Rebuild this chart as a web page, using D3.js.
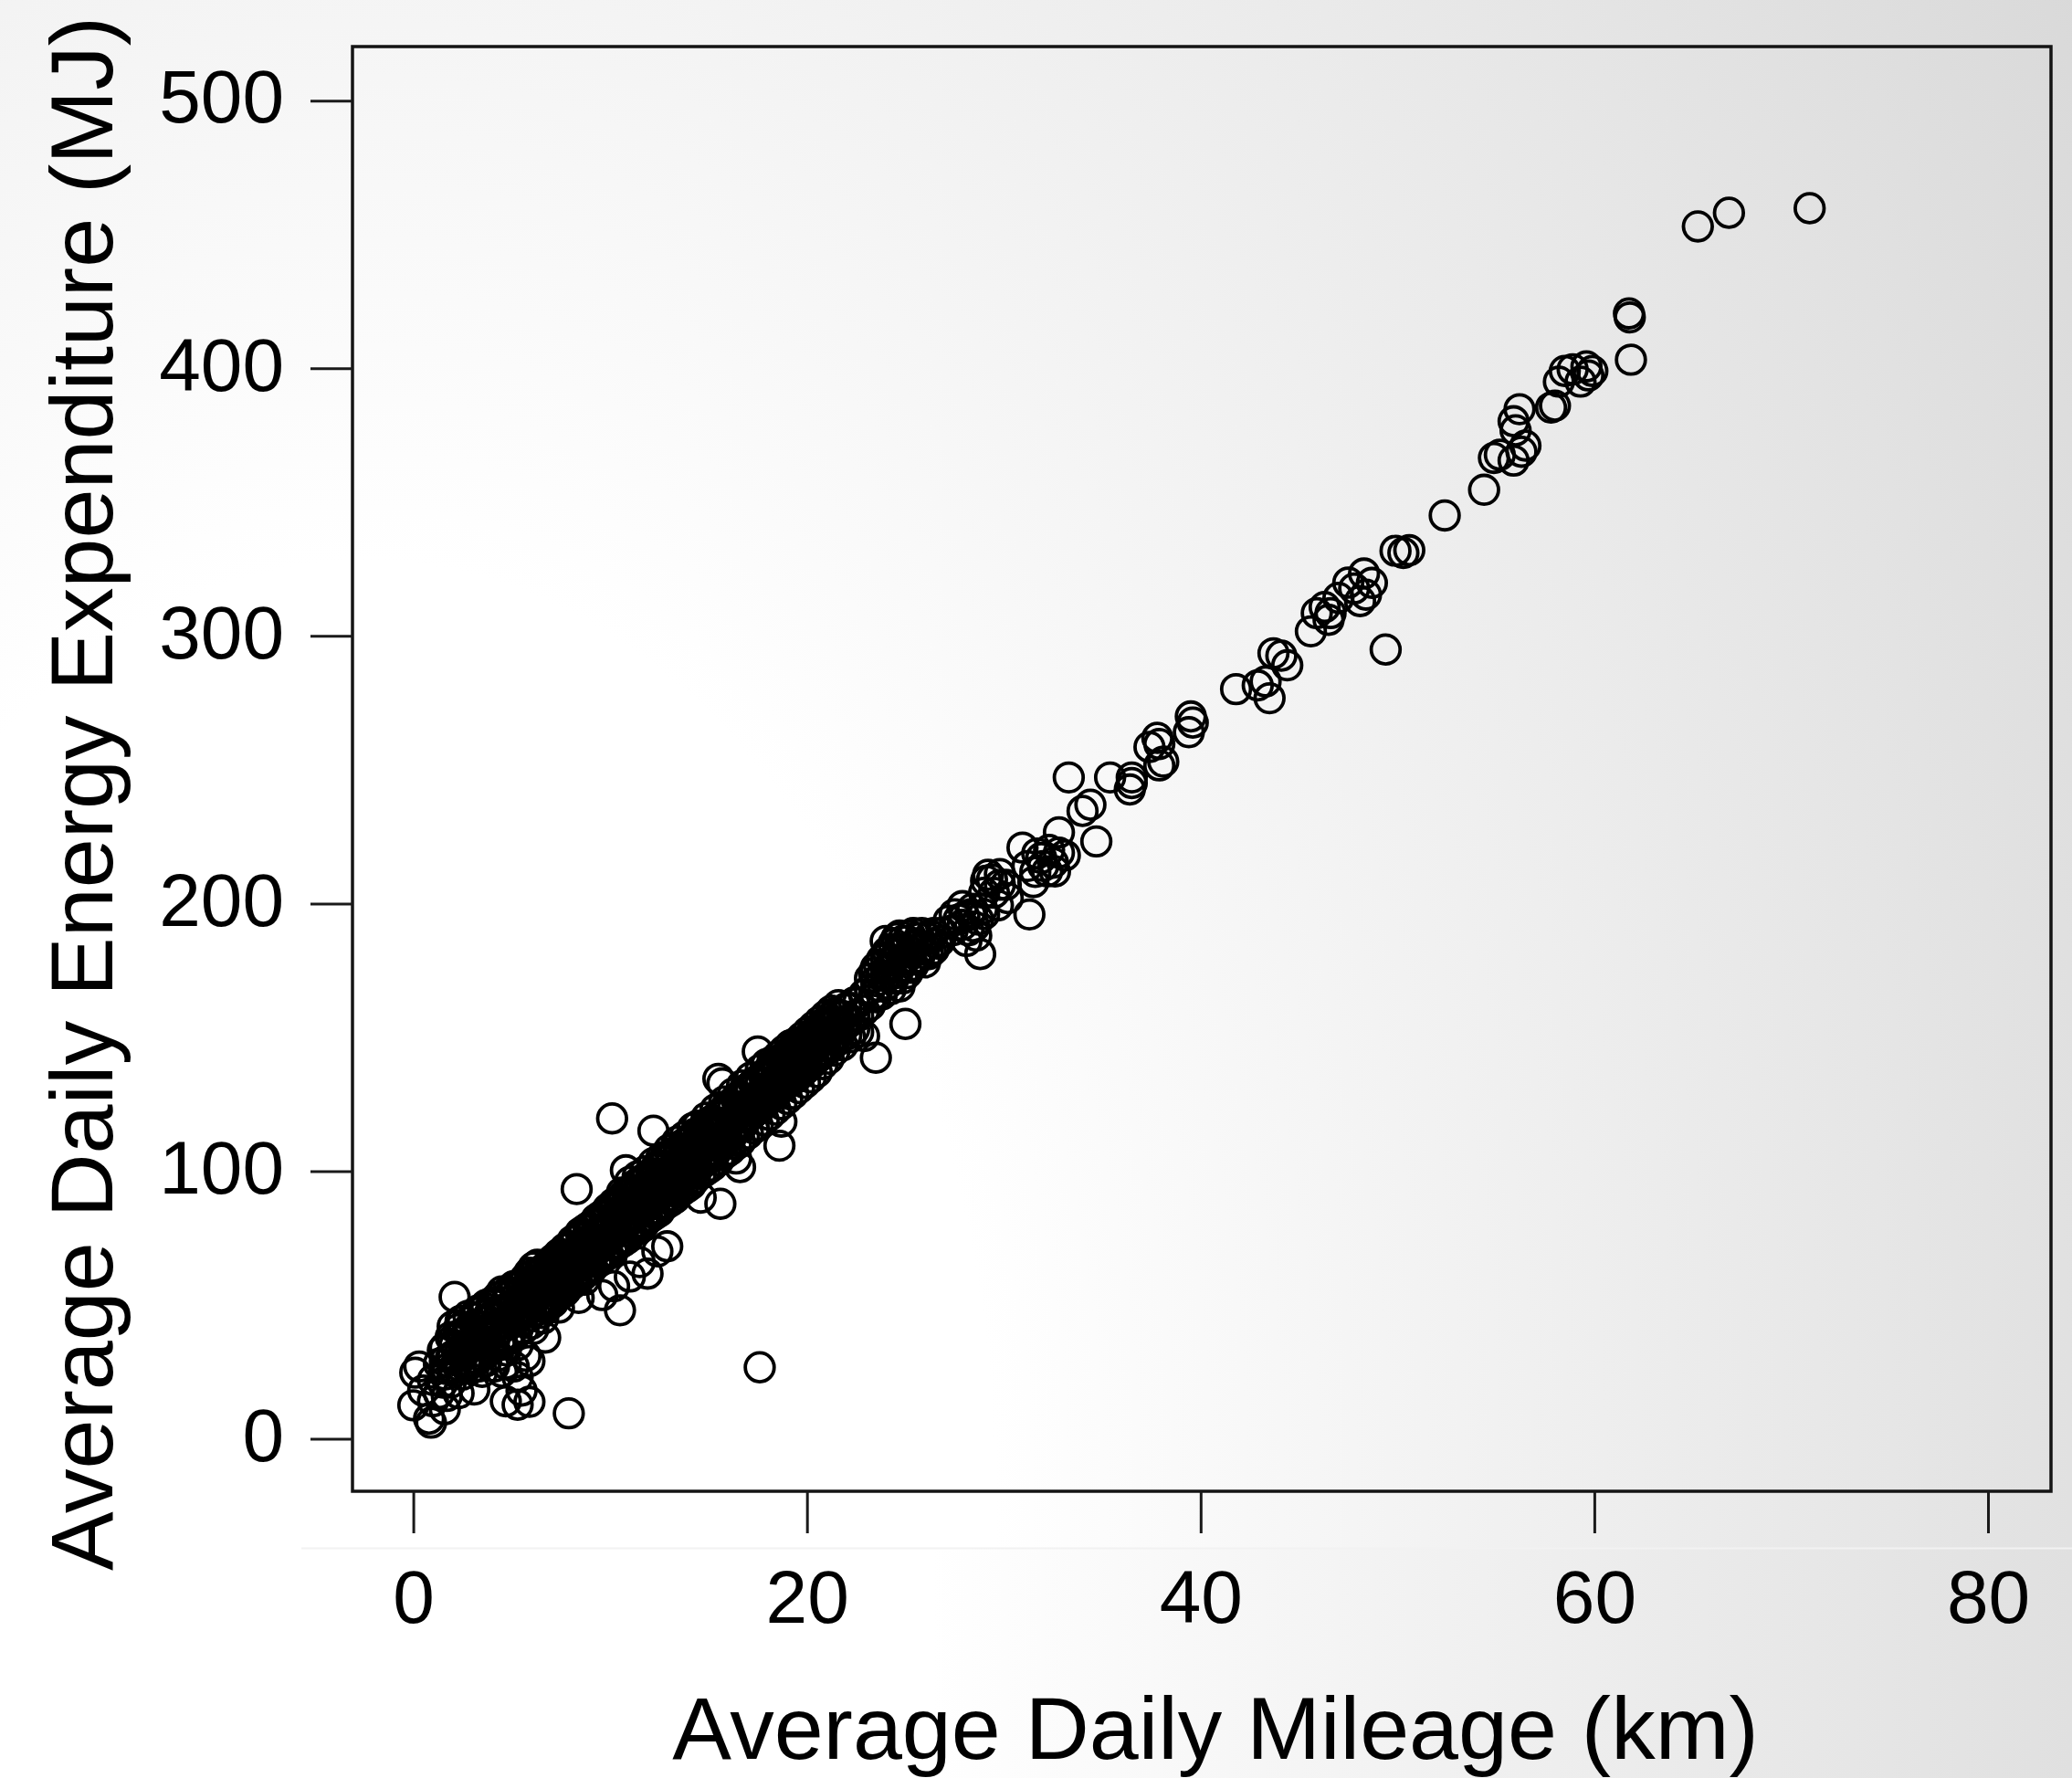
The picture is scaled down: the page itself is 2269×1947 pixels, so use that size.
<!DOCTYPE html>
<html>
<head>
<meta charset="utf-8">
<script src="https://cdn.jsdelivr.net/npm/d3@7"></script>
<style>
  html, body { margin: 0; padding: 0; background: #fff; }
  svg { display: block; }
  text { font-family: "Liberation Sans", Arial, Helvetica, sans-serif; fill: #000; }
</style>
</head>
<body>
<svg id="chart" width="2269" height="1947"></svg>
<script>
// ---------------- DATA ----------------
const xTicks = [0, 20, 40, 60, 80];
const yTicks = [0, 100, 200, 300, 400, 500];
const xTitle = "Average Daily Mileage (km)";
const yTitle = "Average Daily Energy Expenditure (MJ)";

// [mileage km, energy MJ] — cluster near the origin (0–6.5 km)
const lowBlob = [
  [0.0,12.5],[0.1,24.7],[0.3,27],[0.5,18],[0.8,7.5],[0.9,6],[1.0,22],[1.0,14],[1.3,28],[1.3,17],
  [1.5,33],[1.5,21],[1.6,11],[1.7,16],[1.7,26],[1.9,30],[1.9,38],[1.9,21],[2.1,53],[2.1,35],
  [2.1,25],[2.3,29],[2.3,41],[2.3,17],[2.5,37],[2.5,24],[2.5,44],[2.5,31],[2.7,27],[2.7,39],
  [2.7,33],[2.9,42],[2.9,26],[2.9,36],[3.1,18.4],[3.1,30],[3.1,45],[3.1,38],[3.3,35],[3.3,27],
  [3.3,42],[3.3,48],[3.5,40],[3.5,25],[3.5,31],[3.5,46],[3.7,44],[3.7,36],[3.7,29],[3.7,50],
  [3.9,39],[3.9,47],[3.9,33],[4.1,42],[4.1,27],[4.1,50],[4.1,36],[4.3,45],[4.3,31],[4.3,53],
  [4.3,40],[4.5,38],[4.5,48],[4.5,25],[4.5,55],[4.7,14],[4.7,43],[4.7,51],[4.7,33],[4.7,28],
  [4.9,46],[4.9,54],[4.9,39],[5.1,50],[5.1,43.5],[5.1,57],[5.1,27],[5.3,12.7],[5.3,23],[5.3,47],
  [5.3,54],[5.3,35],[5.5,18],[5.5,52],[5.5,58],[5.5,44],[5.7,49],[5.7,60],[5.7,31],[5.7,55],
  [5.9,13.8],[5.9,29],[5.9,57],[5.9,45.7],[5.9,62],[6.1,53],[6.1,59],[6.1,41],[6.1,64],
  [6.3,50],[6.3,56],[6.3,61],[6.3,65]
];

// extra points hidden inside the solid black part of the origin cluster
const lowBlobCore = [
  [1.6,24],[1.6,29],[1.6,34],[2.0,26],[2.0,31],[2.0,37],[2.0,42],[2.4,27],[2.4,33],[2.4,39],[2.4,44],
  [2.8,28],[2.8,34],[2.8,40],[2.8,46],[3.2,30],[3.2,36],[3.2,42],[3.2,47],[3.6,32],[3.6,38],[3.6,44],[3.6,49],
  [4.0,34],[4.0,40],[4.0,46],[4.0,51],[4.4,35],[4.4,41],[4.4,47],[4.4,53],[4.8,37],[4.8,43],[4.8,49],[4.8,55],
  [5.2,39],[5.2,45],[5.2,51],[5.2,57],[5.6,41],[5.6,47],[5.6,53],[5.6,58],[6.0,43],[6.0,49],[6.0,55],[6.0,61]
];

// main dense band (6.5–23 km)
const denseBand = [
  [6.5,47],[6.5,52],[6.5,57],[6.5,62],[6.7,37.8],[6.7,49],[6.7,55],[6.7,60],[6.7,64],
  [6.9,50],[6.9,56],[6.9,61],[6.9,65],[7.1,51],[7.1,57],[7.1,62],[7.1,67],
  [7.3,53],[7.3,58],[7.3,63],[7.3,68],[7.4,49],[7.5,54],[7.5,60],[7.5,65],[7.5,69],
  [7.7,55],[7.7,61],[7.7,66],[7.7,71],[7.9,9.5],[7.9,57],[7.9,62],[7.9,68],[7.9,72],
  [8.1,58],[8.1,63],[8.1,69],[8.1,74],[8.3,93.3],[8.3,59],[8.3,65],[8.3,70],[8.3,75],[8.4,52.6],
  [8.5,61],[8.5,66],[8.5,72],[8.5,77],[8.7,59.4],[8.7,62],[8.7,67],[8.7,73],[8.7,78],
  [8.9,63],[8.9,69],[8.9,74],[8.9,79],[9.1,64],[9.1,70],[9.1,75],[9.1,80],
  [9.3,66],[9.3,71],[9.3,77],[9.3,82],[9.5,67],[9.5,72],[9.5,78],[9.5,83],[9.6,53.7],
  [9.7,68],[9.7,73],[9.7,79],[9.7,84],[9.9,69],[9.9,75],[9.9,80],[9.9,86],
  [10.1,119.7],[10.1,70],[10.1,76],[10.1,81],[10.1,87],[10.2,57],
  [10.3,72],[10.3,77],[10.3,83],[10.3,88],[10.5,48],[10.5,73],[10.5,79],[10.5,84],[10.5,89],
  [10.7,74],[10.7,80],[10.7,85],[10.7,91],[10.8,100.3],[10.9,75],[10.9,81],[10.9,87],[10.9,92],
  [11.0,60.6],[11.1,77],[11.1,82],[11.1,88],[11.1,93],[11.3,78],[11.3,84],[11.3,89],[11.3,95],
  [11.5,66],[11.5,79],[11.5,85],[11.5,90],[11.5,96],[11.7,80],[11.7,86],[11.7,92],[11.7,97],
  [11.9,61.7],[11.9,82],[11.9,87],[11.9,93],[11.9,98],[12.1,83],[12.1,89],[12.1,94],[12.1,99],
  [12.2,115.1],[12.3,84],[12.3,90],[12.3,96],[12.3,101],[12.4,70],
  [12.5,85],[12.5,91],[12.5,97],[12.5,102],[12.7,87],[12.7,92],[12.7,98],[12.7,104],
  [12.9,71.9],[12.9,88],[12.9,94],[12.9,99],[12.9,105],[13.1,89],[13.1,95],[13.1,100],[13.1,106],
  [13.3,90],[13.3,96],[13.3,102],[13.3,107],[13.5,92],[13.5,97],[13.5,103],[13.5,108],
  [13.7,93],[13.7,99],[13.7,104],[13.7,110],[13.9,94],[13.9,100],[13.9,106],[13.9,111],
  [14.1,95],[14.1,101],[14.1,107],[14.1,112],[14.3,97],[14.3,102],[14.3,108],[14.3,114],
  [14.6,90.1],[14.6,99],[14.6,104],[14.6,110],[14.6,115],[14.8,100],[14.8,106],[14.8,111],[14.8,117],
  [15.0,101],[15.0,107],[15.0,112],[15.0,118],[15.2,102],[15.2,108],[15.2,114],[15.2,119],
  [15.5,134.5],[15.5,104],[15.5,110],[15.5,116],[15.5,121],[15.6,87.8],
  [15.7,132.8],[15.7,106],[15.7,111],[15.7,117],[15.7,122],[15.9,107],[15.9,113],[15.9,118],[15.9,124],
  [16.1,108],[16.1,114],[16.1,119],[16.1,125],[16.4,104.7],[16.4,110],[16.4,116],[16.4,121],[16.4,127],
  [16.6,101.5],[16.6,111],[16.6,117],[16.6,123],[16.6,128],[16.8,113],[16.8,118],[16.8,124],[16.8,130],
  [17.0,114],[17.0,120],[17.0,125],[17.0,131],[17.3,116],[17.3,122],[17.3,127],[17.3,133],
  [17.5,144.7],[17.5,117],[17.5,123],[17.5,128],[17.5,134],[17.6,26.7],
  [17.8,119],[17.8,125],[17.8,130],[17.8,136],[18.1,121],[18.1,127],[18.1,132],[18.1,138],
  [18.4,123],[18.4,129],[18.4,134],[18.4,140],[18.6,109.5],[18.7,118.5],
  [18.7,125],[18.7,131],[18.7,136],[18.7,142],[19.0,127],[19.0,133],[19.0,138],[19.0,144],
  [19.3,129],[19.3,135],[19.3,140],[19.3,146],[19.6,131],[19.6,136],[19.6,142],[19.6,147],
  [19.9,133],[19.9,138],[19.9,144],[19.9,149],[20.2,135],[20.2,140],[20.2,146],[20.2,151],
  [20.5,137],[20.5,143],[20.5,148],[20.5,153],[20.8,140],[20.8,145],[20.8,150],[20.8,155],
  [21.1,142],[21.1,147],[21.1,152],[21.1,157],[21.4,145],[21.4,150],[21.4,155],[21.4,159],
  [21.8,147],[21.8,153],[21.8,158],[22.2,150],[22.2,156],[22.2,161],[22.6,152],[22.6,158],[22.6,163],
  [22.9,150.5],[22.9,160],[22.9,166]
];

// extra points inside the solid black core of the band
const denseCore = [
  [6.6,45],[6.6,50],[6.6,55],[6.6,60],[7.0,52],[7.0,57],[7.0,62],[7.0,66],[7.4,55],[7.4,60],[7.4,65],[7.4,69],
  [7.8,56],[7.8,61],[7.8,66],[7.8,71],[8.2,59],[8.2,64],[8.2,69],[8.2,74],[8.6,61],[8.6,66],[8.6,71],[8.6,76],
  [9.0,63],[9.0,68],[9.0,73],[9.0,78],[9.4,66],[9.4,71],[9.4,76],[9.4,81],[9.8,69],[9.8,74],[9.8,79],[9.8,84],
  [10.2,72],[10.2,77],[10.2,83],[10.2,88],[10.6,75],[10.6,80],[10.6,86],[10.6,92],[11.0,79],[11.0,84],[11.0,90],[11.0,96],
  [11.4,81],[11.4,86],[11.4,92],[11.4,98],[11.8,83],[11.8,88],[11.8,94],[11.8,100],[12.2,86],[12.2,91],[12.2,97],[12.2,103],
  [12.6,88],[12.6,93],[12.6,99],[12.6,105],[13.0,91],[13.0,96],[13.0,102],[13.0,108],[13.4,94],[13.4,99],[13.4,105],[13.4,111],
  [13.8,96],[13.8,101],[13.8,107],[13.8,113],[14.2,99],[14.2,104],[14.2,110],[14.2,116],[14.45,101],[14.45,106],[14.45,112],[14.45,117],
  [14.9,104],[14.9,109],[14.9,115],[14.9,120],[15.35,107],[15.35,112],[15.35,118],[15.35,123],[15.8,111],[15.8,116],[15.8,121],[15.8,126],
  [16.25,114],[16.25,119],[16.25,124],[16.25,129],[16.7,117],[16.7,122],[16.7,127],[16.7,132],[17.15,121],[17.15,126],[17.15,130],[17.15,135],
  [17.65,124],[17.65,129],[17.65,133],[17.65,138],[17.95,126],[17.95,131],[17.95,135],[17.95,140],[18.25,128],[18.25,132],[18.25,137],[18.25,141],
  [18.55,130],[18.55,134],[18.55,139],[18.55,143],[18.85,132],[18.85,136],[18.85,141],[18.85,145],[19.15,134],[19.15,138],[19.15,143],[19.15,147],
  [19.45,135],[19.45,140],[19.45,144],[19.45,148],[19.75,137],[19.75,142],[19.75,146],[19.75,150],[20.05,139],[20.05,144],[20.05,148],[20.05,152],
  [20.35,141],[20.35,146],[20.35,150],[20.35,154],[20.65,143],[20.65,148],[20.65,152],[20.65,156],[20.95,145],[20.95,150],[20.95,154],[20.95,158],
  [21.25,147],[21.25,152],[21.25,156],[21.25,160],[21.6,149],[21.6,154],[21.6,158],[21.6,162],[22.0,151],[22.0,156],[22.0,161],
  [22.4,153],[22.4,158],[22.4,163]
];

// middle stretch (23–40 km)
const midRange = [
  [23.2,162],[23.2,168],[23.2,172],[23.5,142.4],[23.5,165],[23.5,171],[23.5,176],
  [23.8,166],[23.8,173],[23.8,179],[24.1,170],[24.1,176],[24.1,182],[24.4,172],[24.4,179],[24.4,185],
  [24.7,169],[24.7,176],[24.7,183],[24.7,188],[25.0,155],[25.1,174],[25.1,180],[25.1,186],
  [25.4,177],[25.4,184],[25.4,189],[25.7,180],[25.7,187],[26.0,178],[26.0,184],[26.3,182],[26.3,188],
  [26.6,185],[26.9,189.1],[27.2,193.6],[27.5,196],[27.9,192],[27.9,199],[28.3,196],[28.6,188],
  [28.5,191.4],[28.8,181.1],[28.9,198],[29.1,208.5],[29.2,210.7],[29.5,204],[29.8,207],[29.7,199.3],
  [30.2,202],[30.95,220.9],[31.3,195.9],[31.6,211.8],[31.7,218.7],[32.0,214],[32.3,220],[32.5,215.2],
  [32.6,212],[32.8,226.6],[33.1,218],[33.3,247.1],[34.0,234.6],[34.4,236.9],[34.7,223.2],
  [35.4,247.1],[36.4,242.6],[36.5,247.1],[36.5,245],[37.4,258.5],[37.8,261.9],[37.9,251.6],
  [37.9,259.6],[38.1,253],[39.4,264],[39.5,269.9],[39.6,267.6]
];

// extra points in the black clusters between 23 and 33 km
const midCore = [
  [23.4,166],[23.4,174],[23.65,169],[23.65,177],[24.0,173],[24.0,180],[24.0,186],[24.25,168],[24.25,176],[24.25,183],
  [24.55,174],[24.55,181],[24.55,187],[24.85,172],[24.85,179],[24.85,186],[25.25,176],[25.25,182],[25.25,188],
  [25.55,179],[25.55,185],[25.85,183],[25.85,189],[26.15,181],[26.15,187],[26.45,183],[26.45,189],[26.75,186],
  [27.4,190],[27.7,194],[28.0,195],[28.2,190],[28.4,198],[28.7,194],[29.0,196],[28.1,186],
  [29.0,204],[29.4,209],[29.8,211],[30.1,207],[31.2,214],[31.9,217],[32.2,212],[31.5,208],[32.8,219]
];

// upper stretch (40+ km)
const highRange = [
  [41.8,280.1],[42.9,281.5],[43.3,283],[43.5,276.7],[43.7,293.5],[44.1,292.6],[44.4,289],
  [45.6,301.7],[45.9,308.5],[46.3,310.8],[46.6,308.5],[46.5,306],[47.0,314.2],[47.5,319.9],
  [47.8,317.7],[48.1,313],[48.3,323.3],[48.4,315.4],[48.7,319.8],[49.4,294.9],
  [49.9,331.8],[50.3,331],[50.6,332],[52.4,345],[54.4,354.6],[54.9,366.5],[55.2,367.7],
  [55.9,365.5],[56.3,368.8],[56.5,371.1],[56.0,376.8],[55.9,380.2],[56.2,384.7],
  [57.8,385.3],[58.0,386],[58.2,395],[58.5,399],[58.9,399.6],[59.3,395],[59.6,400.7],
  [59.7,397.3],[59.9,399],[61.76,420.5],[61.8,419],[61.86,403.2],
  [65.26,453],[66.84,458.1],[70.94,459.8]
];

// ---------------- LAYOUT ----------------
const W = 2269, H = 1947;
const box = { left: 386, top: 51, right: 2246, bottom: 1633 };
const svg = d3.select("#chart");

const x = d3.scaleLinear().domain([0, 80]).range([452.6, 2177]);
const y = d3.scaleLinear().domain([0, 500]).range([1575.5, 110.2]);

// background gradients
const defs = svg.append("defs");
const rg = defs.append("radialGradient")
  .attr("id", "bg")
  .attr("gradientUnits", "userSpaceOnUse")
  .attr("cx", 400).attr("cy", 1650).attr("r", 2300)
  .attr("gradientTransform", "translate(400,1650) scale(1,1.5) translate(-400,-1650)");
rg.append("stop").attr("offset", 0).attr("stop-color", "#ffffff");
rg.append("stop").attr("offset", 0.3).attr("stop-color", "#ffffff");
rg.append("stop").attr("offset", 1).attr("stop-color", "#d6d6d6");

const lg = defs.append("linearGradient")
  .attr("id", "strip")
  .attr("gradientUnits", "userSpaceOnUse")
  .attr("x1", 0).attr("y1", 0).attr("x2", W).attr("y2", 0);
lg.append("stop").attr("offset", 0).attr("stop-color", "#ffffff");
lg.append("stop").attr("offset", 0.45).attr("stop-color", "#ffffff");
lg.append("stop").attr("offset", 1).attr("stop-color", "#e0e0e0");

svg.append("rect").attr("x", 0).attr("y", 0).attr("width", W).attr("height", H).attr("fill", "url(#bg)");
svg.append("rect").attr("x", 0).attr("y", 1696).attr("width", W).attr("height", H - 1696).attr("fill", "url(#strip)");
svg.append("line").attr("x1", 330).attr("x2", W).attr("y1", 1695.5).attr("y2", 1695.5)
  .attr("stroke", "#f2f2f2").attr("stroke-width", 2);

// points
const allPoints = [].concat(lowBlob, lowBlobCore, denseBand, denseCore, midRange, midCore, highRange);
svg.append("g")
  .selectAll("circle")
  .data(allPoints)
  .join("circle")
  .attr("cx", d => x(d[0]))
  .attr("cy", d => y(d[1]))
  .attr("r", 15.8)
  .attr("fill", "none")
  .attr("stroke", "#000")
  .attr("stroke-width", 3.8);

// frame
svg.append("rect")
  .attr("x", box.left).attr("y", box.top)
  .attr("width", box.right - box.left).attr("height", box.bottom - box.top)
  .attr("fill", "none").attr("stroke", "#141414").attr("stroke-width", 3.5);

// axes
const xAxis = svg.append("g")
  .attr("transform", `translate(0,${box.bottom})`)
  .call(d3.axisBottom(x).tickValues(xTicks).tickSize(46).tickPadding(40).tickFormat(d3.format("d")));
const yAxis = svg.append("g")
  .attr("transform", `translate(${box.left},0)`)
  .call(d3.axisLeft(y).tickValues(yTicks).tickSize(46).tickPadding(29).tickFormat(d3.format("d")));

[xAxis, yAxis].forEach(a => {
  a.select(".domain").remove();
  a.selectAll(".tick line").attr("stroke", "#1a1a1a").attr("stroke-width", 3);
  a.selectAll(".tick text")
    .attr("fill", "#000")
    .style("font-family", '"Liberation Sans", Arial, sans-serif')
    .style("font-size", "82px");
});
yAxis.selectAll(".tick text").attr("dy", "0.29em");

// titles
svg.append("text")
  .attr("x", 1331).attr("y", 1926)
  .attr("text-anchor", "middle")
  .style("font-size", "97px")
  .text(xTitle);

svg.append("text")
  .attr("transform", "translate(123,869) rotate(-90)")
  .attr("text-anchor", "middle")
  .style("font-size", "97px")
  .text(yTitle);
</script>
</body>
</html>
